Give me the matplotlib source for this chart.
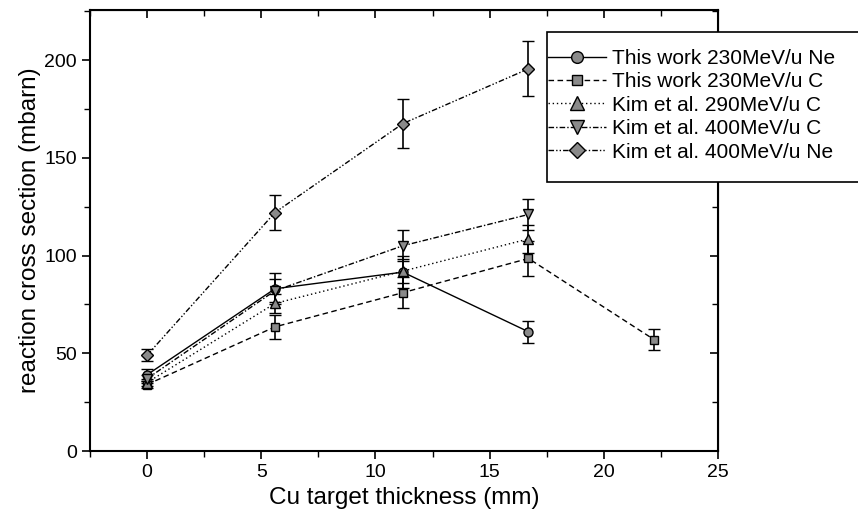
import matplotlib
matplotlib.use("Agg")
import matplotlib.pyplot as plt
from matplotlib.ticker import MultipleLocator
from matplotlib.lines import Line2D
from matplotlib.patches import Rectangle

plt.rcParams['font.family'] = ['Liberation Sans', 'DejaVu Sans']

# Data
x_this = [0, 5.6, 11.2, 16.7]
x_this_c = [0, 5.6, 11.2, 16.7, 22.2]
x_kim = [0, 5.6, 11.2, 16.7]

ne230_y = [39, 83, 91.5, 61]
ne230_e = [3, 8, 8, 5.5]

c230_y = [34, 63.5, 81, 98.5, 57]
c230_e = [2, 6, 8, 9, 5.3]

kim290c_y = [35, 75.5, 92, 108.5]
kim290c_e = [2, 5, 6, 7]

kim400c_y = [37, 82, 105, 121]
kim400c_e = [2, 6, 8, 8]

kim400ne_y = [49, 122, 167.5, 195.5]
kim400ne_e = [3, 9, 12.5, 14]

labels = ["This work 230MeV/u Ne", "This work 230MeV/u C",
          "Kim et al. 290MeV/u C", "Kim et al. 400MeV/u C",
          "Kim et al. 400MeV/u Ne"]

W, H = 858, 527
fig = plt.figure(figsize=(W / 100, H / 100), dpi=100)
ax = fig.add_axes([90/W, 1-451/H, (718-90)/W, (451-10)/H])

face = '#8a8a8a'
common = dict(color='black', ecolor='black', elinewidth=1.2, capsize=4.5, capthick=1.2,
              markerfacecolor=face, markeredgecolor='black', markeredgewidth=1.0, lw=1.0)

series = [
    (x_this, ne230_y, ne230_e, 'o', '-', 6.5),
    (x_this_c, c230_y, c230_e, 's', (0, (4, 2.5)), 6),
    (x_kim, kim290c_y, kim290c_e, '^', (0, (1, 2)), 7.5),
    (x_kim, kim400c_y, kim400c_e, 'v', (0, (4, 1.5, 1, 1.5)), 7.5),
    (x_kim, kim400ne_y, kim400ne_e, 'D', (0, (4, 1.5, 1, 1.5, 1, 1.5)), 6.5),
]
handles = []
for (xs, ys, es, m, ls, ms), lab in zip(series, labels):
    ax.errorbar(xs, ys, yerr=es, marker=m, linestyle=ls, markersize=ms, **common)
    handles.append(Line2D([], [], color='black', lw=1.0, linestyle=ls, marker=m,
                          markersize=ms * 1.3, markerfacecolor=face, markeredgecolor='black'))

ax.set_xlim(-2.5, 25)
ax.set_ylim(0, 225.6)
ax.xaxis.set_major_locator(MultipleLocator(5))
ax.xaxis.set_minor_locator(MultipleLocator(2.5))
ax.yaxis.set_major_locator(MultipleLocator(50))
ax.yaxis.set_minor_locator(MultipleLocator(25))
ax.tick_params(which='major', direction='out', length=6, width=1.2, labelsize=14)
ax.tick_params(which='minor', direction='out', length=4, width=1.0)
for s in ax.spines.values():
    s.set_linewidth(1.5)

secx = ax.secondary_xaxis('top')
secx.xaxis.set_major_locator(MultipleLocator(5))
secx.xaxis.set_minor_locator(MultipleLocator(2.5))
secx.tick_params(which='major', direction='in', length=6, width=1.2, labeltop=False)
secx.tick_params(which='minor', direction='in', length=4, width=1.0)
secy = ax.secondary_yaxis('right')
secy.yaxis.set_major_locator(MultipleLocator(50))
secy.yaxis.set_minor_locator(MultipleLocator(25))
secy.tick_params(which='major', direction='in', length=6, width=1.2, labelright=False)
secy.tick_params(which='minor', direction='in', length=4, width=1.0)

ax.set_xlabel("Cu target thickness (mm)", fontsize=17.5, labelpad=4)
ax.set_ylabel("reaction cross section (mbarn)", fontsize=17.5, labelpad=2)

# legend frame (extends past the right edge of the image, as in the original)
fig.patches.append(Rectangle((547/W, 1-182/H), (W + 10 - 547)/W, 150/H,
                             transform=fig.transFigure, facecolor='white',
                             edgecolor='black', linewidth=1.2, zorder=5))
leg = fig.legend(handles=handles, labels=labels, loc='upper left',
                 bbox_to_anchor=(548/W, 1-49/H), fontsize=15,
                 frameon=False, handlelength=2.8, handletextpad=0.25,
                 borderaxespad=0, labelspacing=0.21, borderpad=0)
leg.set_zorder(6)

fig.savefig("out.png", dpi=100)
